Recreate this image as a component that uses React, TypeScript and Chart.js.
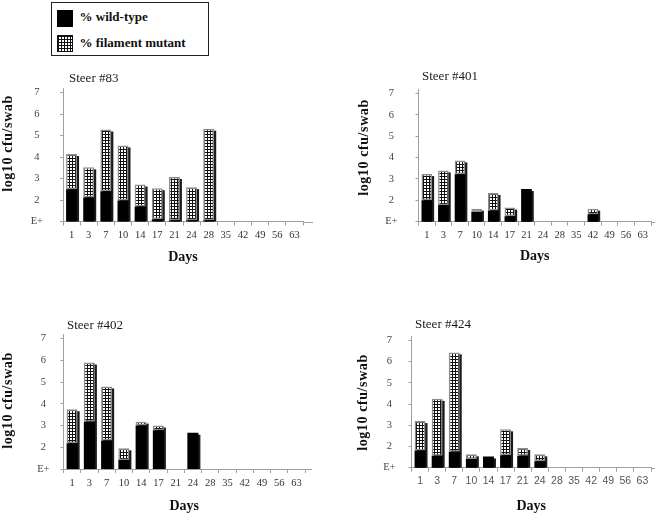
import React, { useEffect, useRef } from "react";
import { Chart, registerables } from "chart.js";

Chart.register(...registerables);

// ---------- data ----------
const days = ["1", "3", "7", "10", "14", "17", "21", "24", "28", "35", "42", "49", "56", "63"];
const yTickValues = [1, 2, 3, 4, 5, 6, 7];
const yTickLabels = ["E+", "2", "3", "4", "5", "6", "7"];
const seriesNames = ["% wild-type", "% filament mutant"];
const steerTitles = ["Steer #83", "Steer #401", "Steer #402", "Steer #424"];
const xAxisTitle = "Days";
const yAxisTitle = "log10 cfu/swab";

// top of the black (wild-type) segment, log10 cfu/swab
const wild83 = [2.5, 2.12, 2.41, 1.98, 1.7, 1.1, 1.06, 1.06, 1.06, null, null, null, null, null];
// top of the whole bar (wild-type + filament mutant)
const total83 = [4.14, 3.52, 5.28, 4.54, 2.72, 2.55, 3.07, 2.6, 5.32, null, null, null, null, null];

const wild401 = [2.0, 1.78, 3.22, 1.45, 1.52, 1.25, 2.53, null, null, null, 1.35, null, null, null];
const total401 = [3.23, 3.4, 3.87, 1.61, 2.34, 1.66, null, null, null, null, 1.61, null, null, null];

const wild402 = [2.19, 3.18, 2.31, 1.42, 3.0, 2.78, null, 2.67, null, null, null, null, null, null];
const total402 = [3.75, 5.9, 4.8, 1.95, 3.18, 3.0, null, null, null, null, null, null, null, null];

const wild424 = [1.81, 1.56, 1.75, 1.41, 1.53, 1.59, 1.56, 1.31, null, null, null, null, null, null];
const total424 = [3.2, 4.25, 6.44, 1.63, null, 2.81, 1.93, 1.63, null, null, null, null, null, null];

// ---------- layout (page coordinates) ----------
type Layout = {
  L: number; R: number; T: number; B: number;
  yTitleX: number; yTitleY: number; daysY: number; titleX: number; titleY: number;
  yPad: number; axisEnd: number; xFamily: string;
};

const SERIF = '"Liberation Serif", "Times New Roman", serif';
const SANS = '"Liberation Sans", Arial, sans-serif';

const layouts: Layout[] = [
  { L: 63, R: 303, T: 75.8, B: 221.5, yTitleX: 8, yTitleY: 143.5, daysY: 258, titleX: 69, titleY: 79, yPad: 17, axisEnd: 313, xFamily: SERIF },
  { L: 418.5, R: 651, T: 75.3, B: 221.7, yTitleX: 364, yTitleY: 147.5, daysY: 257, titleX: 422, titleY: 76.7, yPad: 18, axisEnd: 655, xFamily: SERIF },
  { L: 63.5, R: 305, T: 327.1, B: 469, yTitleX: 8, yTitleY: 400.5, daysY: 506.7, titleX: 67, titleY: 326, yPad: 11, axisEnd: 312, xFamily: SERIF },
  { L: 411.5, R: 651, T: 327.2, B: 467.7, yTitleX: 363, yTitleY: 402.5, daysY: 506.7, titleX: 415, titleY: 325, yPad: 13, axisEnd: 655, xFamily: SANS },
];

const panelData = [
  { wild: wild83, total: total83 },
  { wild: wild401, total: total401 },
  { wild: wild402, total: total402 },
  { wild: wild424, total: total424 },
];

function makeHatch(): CanvasPattern | string {
  const c = document.createElement("canvas");
  c.width = 3;
  c.height = 3;
  const g = c.getContext("2d");
  if (!g) return "#888";
  g.fillStyle = "#fff";
  g.fillRect(0, 0, 3, 3);
  g.fillStyle = "#111";
  g.fillRect(0, 0, 3, 1);
  g.fillRect(0, 0, 1, 3);
  return g.createPattern(c, "repeat") || "#888";
}

function canvasRect(l: Layout) {
  const cx = Math.max(0, Math.floor(l.yTitleX - 10));
  const cy = Math.floor(l.T - 10);
  const ch = Math.round(l.daysY + 8.4 - cy);
  const cw = Math.min(656, Math.ceil(l.axisEnd + 2)) - cx;
  return { cx, cy, cw, ch };
}

function Panel({ idx }: { idx: number }) {
  const ref = useRef<HTMLCanvasElement | null>(null);
  const l = layouts[idx];
  const { cx, cy, cw, ch } = canvasRect(l);

  useEffect(() => {
    if (!ref.current) return;
    const { wild, total } = panelData[idx];
    const hatch = makeHatch();
    const mutant = total.map((t, i) => (t == null ? null : [wild[i] ?? 1, t]));

    const decor = {
      id: "decor" + idx,
      beforeDatasetsDraw(chart: any) {
        const ctx = chart.ctx;
        const a = chart.chartArea;
        ctx.save();
        ctx.fillStyle = "#1c1c1c";
        const n = days.length;
        for (let i = 0; i < n; i++) {
          let top = Infinity;
          let x = 0;
          let w = 0;
          chart.data.datasets.forEach((ds: any, di: number) => {
            if (ds.data[i] == null) return;
            const el = chart.getDatasetMeta(di).data[i];
            if (!el) return;
            const p = el.getProps(["x", "y", "base", "width"], true);
            top = Math.min(top, p.y, p.base);
            x = p.x;
            w = p.width;
          });
          const base = a.bottom;
          if (top === Infinity || base - top < 3) continue;
          ctx.fillRect(x - w / 2 + 2, top + 2, w, base - top - 2);
        }
        ctx.restore();
      },
      afterDraw(chart: any) {
        const ctx = chart.ctx;
        const a = chart.chartArea;
        ctx.save();
        ctx.strokeStyle = "#a0a0a0";
        ctx.lineWidth = 1;
        ctx.beginPath();
        ctx.moveTo(a.right, Math.round(a.bottom) + 0.5);
        ctx.lineTo(l.axisEnd - cx, Math.round(a.bottom) + 0.5);
        ctx.stroke();
        // panel title
        ctx.font = "13px " + SERIF;
        ctx.fillStyle = "#1a1a1a";
        ctx.textBaseline = "middle";
        ctx.textAlign = "left";
        ctx.fillText(steerTitles[idx], l.titleX - cx, l.titleY - cy);
        // y axis title
        ctx.translate(l.yTitleX - cx, l.yTitleY - cy);
        ctx.rotate(-Math.PI / 2);
        ctx.font = "bold 14px " + SERIF;
        (ctx as any).letterSpacing = "0.6px";
        ctx.fillStyle = "#111";
        ctx.textAlign = "center";
        ctx.textBaseline = "middle";
        ctx.fillText(yAxisTitle, 0, 0);
        ctx.restore();
      },
    };

    const chart = new Chart(ref.current, {
      type: "bar",
      data: {
        labels: days,
        datasets: [
          {
            label: seriesNames[0],
            data: wild as any,
            backgroundColor: "#000",
            borderWidth: 0,
            stack: "s",
            barPercentage: 0.64,
            categoryPercentage: 1,
          },
          {
            label: seriesNames[1],
            data: mutant as any,
            backgroundColor: hatch as any,
            borderColor: "#8c8c8c",
            borderWidth: 1.5,
            borderSkipped: false,
            stack: "s",
            barPercentage: 0.64,
            categoryPercentage: 1,
          },
        ],
      },
      options: {
        animation: false,
        responsive: false,
        devicePixelRatio: 1,
        events: [],
        layout: { padding: { left: 0, top: l.T - cy, right: cx + cw - l.R, bottom: 0 } },
        plugins: {
          legend: { display: false },
          tooltip: { enabled: false },
          title: { display: false },
        },
        scales: {
          x: {
            type: "category",
            stacked: true,
            offset: true,
            grid: {
              display: true,
              drawOnChartArea: false,
              drawTicks: true,
              tickLength: 4,
              offset: true,
              color: "#a0a0a0",
            },
            border: { display: true, color: "#a0a0a0", width: 1 },
            ticks: {
              font: { family: l.xFamily, size: 10.5 },
              color: idx === 3 ? "#555" : "#333",
              padding: 3.5,
              maxRotation: 0,
              autoSkip: false,
            },
            title: {
              display: true,
              text: xAxisTitle,
              font: { family: SERIF, size: 14, weight: "bold" },
              color: "#111",
              padding: { top: 0, bottom: 0 },
            },
            afterFit: (s: any) => {
              s.height = cy + ch - l.B;
            },
          } as any,
          y: {
            type: "linear",
            min: 1,
            max: 7.2,
            stacked: false,
            afterBuildTicks: (s: any) => {
              s.ticks = yTickValues.map((v) => ({ value: v }));
            },
            ticks: {
              callback: (_v: any, i: number) => yTickLabels[i] ?? "",
              crossAlign: "center",
              padding: l.yPad,
              font: { family: SERIF, size: 10.5 },
              color: "#444",
            },
            grid: { display: true, drawOnChartArea: false, drawTicks: true, tickLength: 3, color: "#a0a0a0" },
            border: { display: true, color: "#a0a0a0", width: 1 },
            title: { display: false },
            afterFit: (s: any) => {
              s.width = l.L - cx;
            },
          } as any,
        },
      },
      plugins: [decor],
    });
    return () => chart.destroy();
  }, [idx]);

  return (
    <canvas
      ref={ref}
      width={cw}
      height={ch}
      style={{ position: "absolute", left: cx, top: cy, width: cw, height: ch }}
    />
  );
}

function Legend() {
  const box: React.CSSProperties = {
    position: "absolute",
    left: 51,
    top: 2,
    width: 158,
    height: 54,
    border: "1.5px solid #222",
    boxSizing: "border-box",
    background: "#fff",
    fontFamily: SERIF,
    fontWeight: "bold",
    fontSize: 13,
    color: "#111",
  };
  const hatchBg: React.CSSProperties = {
    position: "absolute",
    left: 4.5,
    top: 31.5,
    width: 16,
    height: 17,
    boxSizing: "border-box",
    border: "1px solid #111",
    backgroundColor: "#fff",
    backgroundImage:
      "linear-gradient(#111 1px, transparent 1px), linear-gradient(90deg, #111 1px, transparent 1px)",
    backgroundSize: "3px 3px",
  };
  return (
    <div style={box}>
      <div style={{ position: "absolute", left: 4.5, top: 6.5, width: 16, height: 17, background: "#000" }} />
      <div style={{ position: "absolute", left: 27.5, top: 6, lineHeight: "15px", whiteSpace: "nowrap" }}>
        {seriesNames[0]}
      </div>
      <div style={hatchBg} />
      <div style={{ position: "absolute", left: 27.5, top: 31.7, lineHeight: "15px", whiteSpace: "nowrap" }}>
        {seriesNames[1]}
      </div>
    </div>
  );
}

export default function App() {
  return (
    <div
      style={{
        position: "absolute",
        left: 0,
        top: 0,
        width: 656,
        height: 515,
        background: "#fff",
        overflow: "hidden",
      }}
    >
      <Legend />
      {layouts.map((_, i) => (
        <Panel key={i} idx={i} />
      ))}
    </div>
  );
}
